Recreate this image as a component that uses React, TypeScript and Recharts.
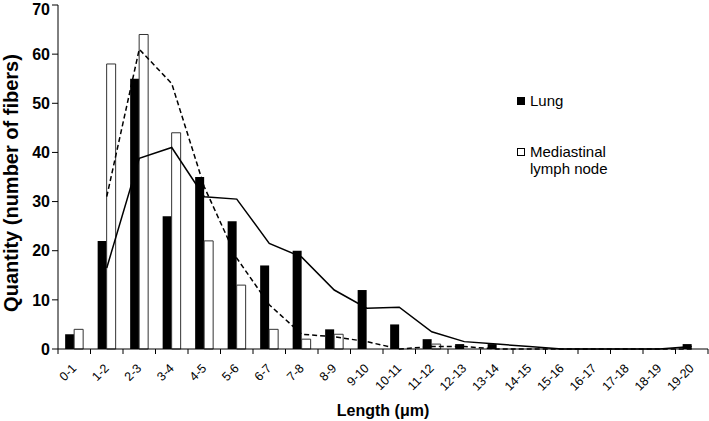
import React from 'react';
import { ComposedChart, Bar, Line, XAxis, YAxis, Label, Text } from 'recharts';

// ---------------------------------------------------------------------------
// Data
// ---------------------------------------------------------------------------

const CATEGORIES = [
  '0-1', '1-2', '2-3', '3-4', '4-5', '5-6', '6-7', '7-8', '8-9', '9-10',
  '10-11', '11-12', '12-13', '13-14', '14-15', '15-16', '16-17', '17-18', '18-19', '19-20',
];
const LUNG = [3, 22, 55, 27, 35, 26, 17, 20, 4, 12, 5, 2, 1, 1, 0, 0, 0, 0, 0, 1];
const LYMPH = [4, 58, 64, 44, 22, 13, 4, 2, 3, 0, 0, 1, 0, 0, 0, 0, 0, 0, 0, 0];
// trend lines (moving average as drawn in the figure)
const LUNG_TREND = [null, 16.5, 38.8, 41, 31, 30.5, 21.5, 18.7, 12, 8.3, 8.5, 3.5, 1.5, 1, 0.5, 0, 0, 0, 0, 0.5];
const LYMPH_TREND = [null, 31, 61, 54, 33, 18.5, 9, 3, 2.5, 1.5, 0, 0.5, 0.5, 0, 0, 0, 0, 0, 0, 0];
const Y_TICKS = [0, 10, 20, 30, 40, 50, 60, 70];

// ---------------------------------------------------------------------------
// Layout
// ---------------------------------------------------------------------------

const W = 709;
const H = 421;
const MARGIN = { top: 5, right: 1, bottom: 0, left: 0 };
const Y_AXIS_W = 58;
const X_AXIS_H = 72;
const BAND = (W - MARGIN.left - MARGIN.right - Y_AXIS_W) / CATEGORIES.length;
const FONT = '"Liberation Sans", Arial, Helvetica, sans-serif';

const chartData = CATEGORIES.map((c, i) => ({
  name: c,
  lung: LUNG[i],
  lymph: LYMPH[i],
  lungTrend: LUNG_TREND[i],
  lymphTrend: LYMPH_TREND[i],
}));

// x tick: tick marks on category boundaries + rotated label
function XTick(props: any) {
  const { x, y, payload, index } = props;
  const left = x - BAND / 2;
  const right = x + BAND / 2;
  return (
    <g>
      <line x1={left} y1={y} x2={left} y2={y + 5} stroke="#000" strokeWidth={1} />
      {index === CATEGORIES.length - 1 && (
        <line x1={right} y1={y} x2={right} y2={y + 5} stroke="#000" strokeWidth={1} />
      )}
      <Text
        x={x + 3}
        y={y + 20}
        angle={-45}
        textAnchor="end"
        verticalAnchor="end"
        fontSize={12.5}
        fontFamily={FONT}
        fill="#000"
      >
        {payload.value}
      </Text>
    </g>
  );
}

function LegendItem({ filled, lines, top }: { filled: boolean; lines: string[]; top: number }) {
  return (
    <div style={{ position: 'absolute', left: 0, top, display: 'flex', alignItems: 'flex-start' }}>
      <span
        style={{
          width: 8,
          height: 8,
          boxSizing: 'border-box',
          background: filled ? '#000' : '#fff',
          border: '1px solid #000',
          marginTop: 5,
          marginRight: 5,
          display: 'inline-block',
        }}
      />
      <span style={{ fontSize: 15, lineHeight: '17px', color: '#000' }}>
        {lines.map((l) => (
          <div key={l}>{l}</div>
        ))}
      </span>
    </div>
  );
}

export default function App() {
  return (
    <div style={{ position: 'absolute', left: 0, top: 0, width: W, height: H, background: '#fff', fontFamily: FONT }}>
      <ComposedChart
        width={W}
        height={H}
        data={chartData}
        margin={MARGIN}
        barGap={0}
        barCategoryGap="22%"
      >
        <XAxis
          dataKey="name"
          height={X_AXIS_H}
          interval={0}
          tickLine={false}
          tickSize={0}
          tickMargin={0}
          stroke="#000"
          tick={<XTick />}
        >
          <Label
            content={() => (
              <text x={383} y={416} textAnchor="middle" fontSize={16} fontWeight="bold" fontFamily={FONT} fill="#000">
                Length (μm)
              </text>
            )}
          />
        </XAxis>
        <YAxis
          width={Y_AXIS_W}
          domain={[0, 70]}
          ticks={Y_TICKS}
          tickSize={6}
          tickMargin={2}
          stroke="#000"
          tick={{ fontSize: 16, fontWeight: 'bold', fill: '#000', fontFamily: FONT }}
        >
          <Label
            content={() => (
              <text
                x={18}
                y={183}
                textAnchor="middle"
                transform="rotate(-90, 18, 183)"
                fontSize={20}
                fontWeight="bold"
                fontFamily={FONT}
                fill="#000"
              >
                Quantity (number of fibers)
              </text>
            )}
          />
        </YAxis>
        <Bar dataKey="lung" fill="#000" isAnimationActive={false} />
        <Bar dataKey="lymph" fill="#fff" stroke="#333" strokeWidth={1} isAnimationActive={false} />
        <Line
          type="linear"
          dataKey="lungTrend"
          stroke="#000"
          strokeWidth={1.5}
          dot={false}
          isAnimationActive={false}
        />
        <Line
          type="linear"
          dataKey="lymphTrend"
          stroke="#000"
          strokeWidth={1.5}
          strokeDasharray="5 3"
          dot={false}
          isAnimationActive={false}
        />
      </ComposedChart>

      {/* Legend */}
      <div style={{ position: 'absolute', left: 517, top: 92, width: 180, height: 100 }}>
        <LegendItem filled lines={['Lung']} top={0} />
        <LegendItem filled={false} lines={['Mediastinal', 'lymph node']} top={51} />
      </div>
    </div>
  );
}
